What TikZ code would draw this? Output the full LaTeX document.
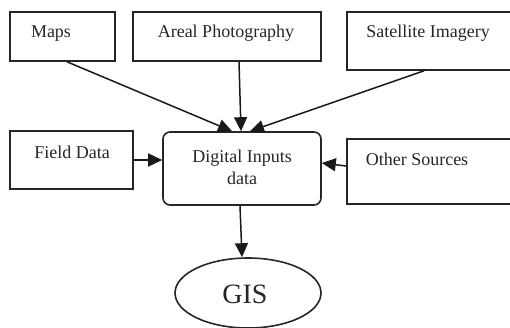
\documentclass[tikz,border=0pt]{standalone}
\usepackage{fontspec}
\setmainfont{Liberation Serif}
\usetikzlibrary{arrows.meta,shapes.geometric,calc}
\begin{document}
\begin{tikzpicture}[x=1pt,y=-1pt,
  box/.style={draw=black!85,line width=1.6pt,rectangle,inner sep=0pt},
  txt/.style={font=\fontsize{18}{20}\selectfont,inner sep=0pt,anchor=base,text=black!85},
  conn/.style={line width=1.5pt,black!90,-{Triangle[length=14pt,width=13pt]}}]
\useasboundingbox (0,0) rectangle (510,327);
\node[box,minimum width=105pt,minimum height=49pt] (maps) at (62.5,36.5) {};
\node[box,minimum width=188pt,minimum height=49pt] (areal) at (227,36.5) {};
\node[box,minimum width=165pt,minimum height=58pt] (sat) at (429.5,41) {};
\node[box,minimum width=123pt,minimum height=58pt] (field) at (71.5,160) {};
\node[box,minimum width=165pt,minimum height=65pt] (other) at (429.5,171.5) {};
\node[box,rounded corners=7pt,minimum width=158pt,minimum height=73pt] (dig) at (242,168.5) {};
\node[box,ellipse,minimum width=146pt,minimum height=70pt] (gis) at (248,293) {};
\node[txt] (mapsT) at (51,37) {Maps};
\node[txt] (arealT) at (226,37) {Areal Photography};
\node[txt] (satT) at (428,37) {Satellite Imagery};
\node[txt] (fieldT) at (72,158) {Field Data};
\node[txt] (digT1) at (242,162) {Digital Inputs};
\node[txt] (digT2) at (242,184) {data};
\node[txt] (otherT) at (417,165) {Other Sources};
\node[txt,font=\fontsize{28}{30}\selectfont] (gisT) at (245,303) {GIS};
\draw[conn] ([xshift=4.5pt]maps.south) -- ([xshift=-10pt]dig.north);
\draw[conn] ([xshift=12pt]areal.south) -- ([xshift=-1pt]dig.north);
\draw[conn] ([xshift=-5.5pt]sat.south) -- ([xshift=8pt]dig.north);
\draw[conn] (field.east) -- (field.east -| dig.west);
\draw[conn] ([yshift=5.5pt]other.west) -- ([yshift=5.5pt]dig.east);
\draw[conn] ([xshift=-2pt]dig.south) -- ([xshift=-6pt]gis.north);
\end{tikzpicture}
\end{document}
